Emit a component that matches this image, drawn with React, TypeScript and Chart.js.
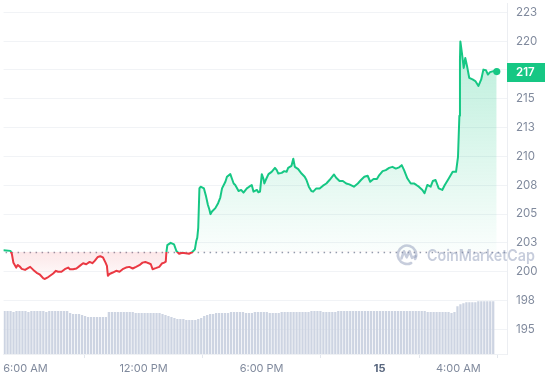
import React, { useEffect, useRef } from 'react';
import Chart from 'chart.js/auto';

// ---- data (hours are measured from 6:00 AM on the 14th) ----
const priceHours: number[] = [
  -1.11, -0.76, -0.69, -0.61, -0.47, -0.39, -0.27, -0.19, -0.02, 0.15,
  0.24, 0.40, 0.57, 0.74, 0.91, 0.99, 1.11, 1.25, 1.41, 1.55,
  1.66, 1.83, 2.00, 2.17, 2.26, 2.42, 2.59, 2.76, 2.93, 3.09,
  3.26, 3.40, 3.52, 3.68, 3.80, 3.94, 4.07, 4.14, 4.19, 4.27,
  4.44, 4.61, 4.78, 4.94, 5.11, 5.28, 5.45, 5.62, 5.79, 5.95,
  6.09, 6.26, 6.37, 6.46, 6.62, 6.80, 6.93, 7.05, 7.13, 7.16,
  7.21, 7.38, 7.55, 7.67, 7.81, 7.97, 8.14, 8.31, 8.48, 8.61,
  8.68, 8.73, 8.78, 8.84, 8.90, 9.07, 9.18, 9.27, 9.35, 9.40,
  9.48, 9.65, 9.79, 9.90, 9.99, 10.16, 10.24, 10.41, 10.49, 10.58,
  10.66, 10.83, 10.96, 11.08, 11.25, 11.37, 11.50, 11.59, 11.76, 11.84,
  11.92, 12.01, 12.09, 12.14, 12.21, 12.35, 12.51, 12.68, 12.77, 12.85,
  13.02, 13.15, 13.27, 13.35, 13.52, 13.61, 13.69, 13.86, 14.03, 14.19,
  14.28, 14.40, 14.53, 14.62, 14.78, 14.95, 15.12, 15.29, 15.45, 15.68,
  15.79, 15.96, 16.13, 16.30, 16.46, 16.69, 16.89, 17.05, 17.22, 17.39,
  17.52, 17.69, 17.86, 17.98, 18.15, 18.31, 18.48, 18.65, 18.82, 18.99,
  19.12, 19.24, 19.41, 19.58, 19.74, 19.86, 19.99, 20.17, 20.28, 20.42,
  20.59, 20.70, 20.84, 21.00, 21.18, 21.31, 21.51, 21.71, 21.88, 21.98,
  22.05, 22.08, 22.10, 22.18, 22.27, 22.35, 22.44, 22.55, 22.72, 22.86,
  23.02, 23.16, 23.27, 23.40, 23.50, 23.61, 23.78, 23.95,
];

const prices: number[] = [
  201.85, 201.80, 201.53, 200.76, 200.35, 200.58, 200.41, 200.24, 200.15, 200.33,
  200.41, 200.15, 199.90, 199.73, 199.41, 199.36, 199.47, 199.64, 199.84, 200.07,
  199.99, 199.99, 200.21, 200.35, 200.21, 200.21, 200.27, 200.50, 200.73, 200.64,
  200.84, 200.73, 200.93, 201.27, 201.33, 201.23, 200.78, 200.50, 199.64, 199.79,
  199.92, 200.07, 199.99, 200.21, 200.35, 200.41, 200.27, 200.41, 200.56, 200.78,
  200.84, 200.73, 200.64, 200.21, 200.30, 200.41, 200.70, 200.78, 200.87, 201.64,
  202.30, 202.50, 202.36, 201.79, 201.55, 201.64, 201.59, 201.55, 201.70, 201.93,
  202.65, 202.93, 203.79, 207.22, 207.37, 207.22, 206.51, 205.80, 205.37, 204.99,
  205.22, 205.51, 205.94, 206.43, 207.22, 207.80, 208.23, 208.46, 208.08, 207.65,
  207.52, 207.00, 207.09, 206.86, 207.22, 207.37, 207.52, 206.94, 207.09, 206.88,
  206.94, 208.46, 208.08, 207.65, 207.95, 208.46, 208.66, 209.00, 208.81, 208.51,
  208.57, 208.72, 208.66, 209.00, 209.18, 209.80, 209.09, 208.89, 208.51, 208.23,
  207.95, 207.37, 207.00, 206.94, 207.22, 207.22, 207.46, 207.65, 207.95, 208.43,
  208.14, 207.86, 207.86, 207.65, 207.57, 207.37, 207.65, 207.95, 208.23, 208.32,
  207.80, 208.03, 208.03, 208.38, 208.72, 208.81, 209.00, 209.09, 208.94, 209.05,
  209.24, 208.81, 208.08, 207.65, 207.65, 207.52, 207.37, 207.09, 206.80, 207.52,
  207.37, 207.86, 207.95, 207.22, 207.09, 207.52, 208.08, 208.66, 208.66, 209.95,
  213.53, 218.39, 219.97, 218.97, 217.68, 218.54, 217.83, 216.82, 216.68, 216.54,
  216.11, 216.68, 217.53, 217.48, 217.10, 217.31, 217.40, 217.36,
];

// trading volume (hundred millions), one bar per interval
const volumeStartHour = -1.06;
const volumeStepHours = 0.1514;
const volumes: number[] = [
  4.3, 4.3, 4.3, 4.2, 4.3, 4.3, 4.3, 4.3, 4.2, 4.3, 4.3, 4.3, 4.3, 4.3, 4.2, 4.3, 4.3, 4.3, 4.3, 4.3, 4.3, 4.3,
  4.1, 4.0, 4.0, 4.0, 3.9,
  3.8, 3.7, 3.7, 3.7, 3.7, 3.7, 3.7, 3.7,
  4.2, 4.2, 4.2, 4.2, 4.2, 4.2, 4.2, 4.2, 4.2, 4.1, 4.1, 4.1, 4.1, 4.1, 4.1, 4.1, 4.1, 4.1, 4.0,
  3.9, 3.8, 3.7, 3.6,
  3.5, 3.5, 3.5, 3.4, 3.4, 3.4, 3.4, 3.5, 3.6,
  3.8, 3.9, 4.0, 4.0, 4.1, 4.1, 4.1, 4.1, 4.1, 4.2, 4.2, 4.2,
  4.2, 4.2, 4.1, 4.1, 4.1, 4.2, 4.2, 4.2, 4.2, 4.2, 4.1, 4.1, 4.1, 4.1, 4.2, 4.2, 4.2, 4.2, 4.2, 4.2, 4.2,
  4.2, 4.2, 4.2, 4.3, 4.3, 4.3, 4.3, 4.2, 4.2, 4.2, 4.2, 4.2, 4.3, 4.3, 4.3, 4.3, 4.3, 4.3, 4.3, 4.3, 4.3, 4.3, 4.3,
  4.3, 4.3, 4.3, 4.3, 4.3, 4.3, 4.3, 4.3, 4.3, 4.3, 4.3, 4.3, 4.3, 4.3, 4.3, 4.3, 4.3, 4.3, 4.3, 4.2, 4.2, 4.2,
  4.2, 4.2, 4.2, 4.2, 4.2, 4.1, 4.2,
  4.8, 5.0, 5.1, 5.2, 5.2, 5.2, 5.2, 5.3, 5.3, 5.3, 5.3, 5.3, 5.3,
];

const baselinePrice = 201.72;

const xTickHours: number[] = [0, 6, 12, 18, 22];
const xTickLabels: string[] = ['6:00 AM', '12:00 PM', '6:00 PM', '15', '4:00 AM'];
const yTickValues: number[] = [195, 197.5, 200, 202.5, 205, 207.5, 210, 212.5, 215, 217.5, 220, 222.5];

const X_MIN = -1.11;
const X_MAX = 24.47;
const Y_MIN = 192.85;
const Y_MAX = 223.26;
const VOL_MAX = 35.4;

const GREEN = '#16c784';
const RED = '#ea3943';
const AXIS_TEXT = '#808a9d';
const FONT = 'Inter, "Noto Sans", sans-serif';
const FONT_SIZE = 11;

const gradientPlugin = {
  id: 'baselineGradients',
  afterLayout(chart: any) {
    const area = chart.chartArea;
    if (!area) return;
    const c = chart.ctx as CanvasRenderingContext2D;
    const yb = chart.scales.y.getPixelForValue(baselinePrice);
    const f = Math.min(1, Math.max(0, (yb - area.top) / (area.bottom - area.top)));
    const stroke = c.createLinearGradient(0, area.top, 0, area.bottom);
    stroke.addColorStop(0, GREEN);
    stroke.addColorStop(f, GREEN);
    stroke.addColorStop(f, RED);
    stroke.addColorStop(1, RED);
    const above = c.createLinearGradient(0, area.top, 0, yb);
    above.addColorStop(0, 'rgba(22,199,132,0.34)');
    above.addColorStop(1, 'rgba(22,199,132,0.02)');
    const below = c.createLinearGradient(0, yb, 0, yb + 32);
    below.addColorStop(0, 'rgba(234,57,67,0.12)');
    below.addColorStop(1, 'rgba(234,57,67,0)');
    const ds = chart.data.datasets[1];
    ds.borderColor = stroke;
    ds.fill = { target: { value: baselinePrice }, above, below };
  },
  beforeDatasetsDraw(chart: any) {
    const area = chart.chartArea;
    const c = chart.ctx as CanvasRenderingContext2D;
    const yb = Math.round(chart.scales.y.getPixelForValue(baselinePrice)) + 0.5;
    c.save();
    c.strokeStyle = 'rgba(128,138,157,0.85)';
    c.lineWidth = 1.5;
    c.setLineDash([1.5, 4.5]);
    c.beginPath();
    c.moveTo(area.left + 2, yb);
    c.lineTo(area.right, yb);
    c.stroke();
    c.restore();
  },
  afterDatasetsDraw(chart: any) {
    const area = chart.chartArea;
    const c = chart.ctx as CanvasRenderingContext2D;
    const yb = chart.scales.y.getPixelForValue(baselinePrice);
    const col = 'rgba(130,145,178,0.45)';
    const cx = area.right - 100;
    const cy = yb + 3;
    c.save();
    c.strokeStyle = col;
    c.lineWidth = 2.6;
    c.lineCap = 'round';
    c.lineJoin = 'round';
    c.beginPath();
    c.arc(cx, cy, 9.2, Math.PI * 0.35, Math.PI * 2.15, false);
    c.stroke();
    c.beginPath();
    c.moveTo(cx - 5.5, cy + 3.5);
    c.lineTo(cx - 3, cy - 3.5);
    c.lineTo(cx - 0.3, cy + 2.5);
    c.lineTo(cx + 2.5, cy - 3.5);
    c.lineTo(cx + 5, cy + 3);
    c.lineTo(cx + 8.5, cy + 1.5);
    c.stroke();
    c.fillStyle = col;
    c.font = `600 16px ${FONT}`;
    const text = 'CoinMarketCap';
    const w = c.measureText(text).width;
    const target = 108;
    c.textBaseline = 'alphabetic';
    c.textAlign = 'left';
    c.translate(cx + 20, cy + 6);
    c.scale(target / w, 1);
    c.fillText(text, 0, 0);
    c.restore();
  },
  afterDraw(chart: any) {
    const area = chart.chartArea;
    const c = chart.ctx as CanvasRenderingContext2D;
    const last = prices[prices.length - 1];
    const y = chart.scales.y.getPixelForValue(last);
    c.save();
    c.fillStyle = GREEN;
    c.fillRect(area.right, Math.round(y) - 9, chart.width - area.right, 19);
    c.fillStyle = '#ffffff';
    c.font = `600 ${FONT_SIZE + 0.5}px ${FONT}`;
    c.textBaseline = 'middle';
    c.textAlign = 'left';
    c.fillText(String(Math.round(last)), area.right + 9, Math.round(y) + 0.5);
    c.restore();
  },
};

export default function App() {
  const ref = useRef<HTMLCanvasElement | null>(null);
  useEffect(() => {
    const canvas = ref.current;
    if (!canvas) return;
    Chart.defaults.font.family = FONT;
    const lastIndex = prices.length - 1;
    const chart = new Chart(canvas, {
      type: 'line',
      data: {
        datasets: [
          {
            type: 'bar',
            label: 'Volume',
            data: volumes.map((v, i) => ({ x: volumeStartHour + i * volumeStepHours, y: v })),
            xAxisID: 'x',
            yAxisID: 'y2',
            backgroundColor: '#cdd4e2',
            borderWidth: 0,
            barThickness: 1.6,
            order: 2,
          } as any,
          {
            type: 'line',
            label: 'Price',
            data: priceHours.map((h, i) => ({ x: h, y: prices[i] })),
            xAxisID: 'x',
            yAxisID: 'y',
            borderColor: GREEN,
            borderWidth: 2,
            tension: 0,
            borderJoinStyle: 'round',
            borderCapStyle: 'round',
            pointRadius: (ctx: any) => (ctx.dataIndex === lastIndex ? 3.6 : 0),
            pointHoverRadius: 0,
            pointBackgroundColor: GREEN,
            pointBorderWidth: 0,
            fill: { target: { value: baselinePrice }, above: 'rgba(22,199,132,0.1)', below: 'rgba(234,57,67,0.08)' },
            order: 1,
          } as any,
        ],
      },
      options: {
        animation: false,
        responsive: false,
        devicePixelRatio: 1,
        layout: { padding: 0 },
        events: [],
        plugins: {
          legend: { display: false },
          tooltip: { enabled: false },
        },
        scales: {
          x: {
            type: 'linear',
            min: X_MIN,
            max: X_MAX,
            offset: false,
            afterBuildTicks: (s: any) => {
              s.ticks = xTickHours.map((v) => ({ value: v }));
            },
            afterFit: (s: any) => {
              s.height = 26;
              s.paddingLeft = 0;
              s.paddingRight = 0;
              s.paddingTop = 0;
              s.paddingBottom = 0;
            },
            grid: { drawOnChartArea: false, drawTicks: true, tickLength: 4, color: '#e3e7ed' },
            border: { display: true, color: '#eff1f4' },
            ticks: {
              autoSkip: false,
              maxRotation: 0,
              padding: 4,
              callback: (v: any) => {
                const i = xTickHours.indexOf(Number(v));
                return i >= 0 ? xTickLabels[i] : '';
              },
              color: (ctx: any) => (ctx.tick && ctx.tick.value === 18 ? '#58667e' : AXIS_TEXT),
              font: (ctx: any) => ({
                family: FONT,
                size: FONT_SIZE,
                weight: ctx.tick && ctx.tick.value === 18 ? 'bold' : 'normal',
              }),
            },
          },
          y: {
            type: 'linear',
            position: 'right',
            min: Y_MIN,
            max: Y_MAX,
            afterBuildTicks: (s: any) => {
              s.ticks = yTickValues.map((v) => ({ value: v }));
            },
            afterFit: (s: any) => {
              s.width = 38;
              s.paddingLeft = 0;
              s.paddingRight = 0;
              s.paddingTop = 0;
              s.paddingBottom = 0;
            },
            grid: { color: '#f1f3f6', drawTicks: false },
            border: { display: true, color: '#eceef2' },
            ticks: {
              padding: 9,
              color: AXIS_TEXT,
              font: { family: FONT, size: FONT_SIZE + 0.5 },
              callback: (v: any) => String(Math.round(Number(v))),
            },
          },
          y2: {
            type: 'linear',
            display: false,
            min: 0,
            max: VOL_MAX,
          },
        },
      } as any,
      plugins: [gradientPlugin],
    });
    return () => chart.destroy();
  }, []);

  return (
    <div style={{ position: 'absolute', left: 0, top: 0, width: 545, height: 380, background: '#ffffff' }}>
      <canvas ref={ref} width={545} height={380} style={{ display: 'block', width: 545, height: 380 }} />
    </div>
  );
}
